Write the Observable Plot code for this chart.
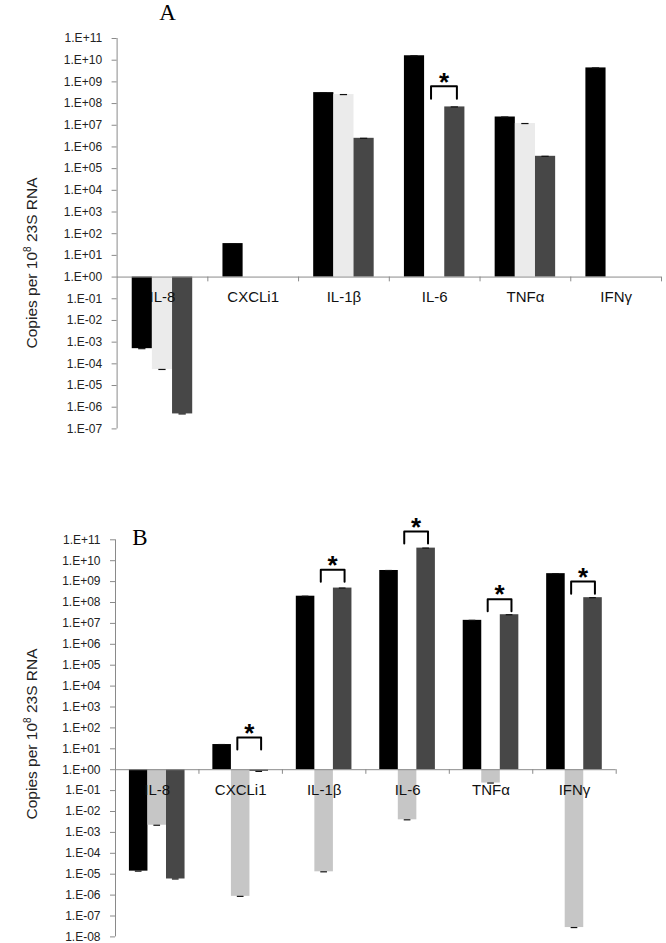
<!DOCTYPE html>
<html><head><meta charset="utf-8">
<script src="https://cdn.jsdelivr.net/npm/d3@7"></script>
<script src="https://cdn.jsdelivr.net/npm/@observablehq/plot@0.6"></script>
<style>
body{margin:0;background:#fff}
#wrap{position:relative;width:666px;height:943px;font-family:Arial,"Liberation Sans",sans-serif}
#wrap svg{position:absolute;left:0;overflow:visible}
</style>
</head><body><div id="wrap"></div>
<script>
// ---- data ----
const categories = ["IL-8", "CXCLi1", "IL-1β", "IL-6", "TNFα", "IFNγ"];
const seriesNames = ["Group 1", "Group 2", "Group 3"];

// Panel A (null = no bar)
const aBlack = [5e-4, 35, 3.2e8, 1.6e10, 2.4e7, 4.4e9];
const aLight = [5.5e-5, null, 2.6e8, null, 1.2e7, null];
const aDark  = [4.9e-7, null, 2.5e6, 7e7, 3.7e5, null];
const aSigCats = ["IL-6"];
const aSigTop  = [6.3e8];
const aTickLabels = ["1.E+11","1.E+10","1.E+09","1.E+08","1.E+07","1.E+06","1.E+05","1.E+04","1.E+03","1.E+02","1.E+01","1.E+00","1.E-01","1.E-02","1.E-03","1.E-04","1.E-05","1.E-06","1.E-07"];

// Panel B
const bBlack = [1.4e-5, 16, 2e8, 3.4e9, 1.4e7, 2.4e9];
const bLight = [2.2e-3, 8.7e-7, 1.3e-5, 4e-3, 0.23, 2.8e-8];
const bDark  = [5.9e-6, 0.83, 4.9e8, 4e10, 2.6e7, 1.7e8];
const bSigCats = ["CXCLi1", "IL-1β", "IL-6", "TNFα", "IFNγ"];
const bSigTop  = [35, 3.7e9, 2.5e11, 1.45e8, 1e9];
const bTickLabels = ["1.E+11","1.E+10","1.E+09","1.E+08","1.E+07","1.E+06","1.E+05","1.E+04","1.E+03","1.E+02","1.E+01","1.E+00","1.E-01","1.E-02","1.E-03","1.E-04","1.E-05","1.E-06","1.E-07","1.E-08"];

// ---- layout constants ----
const BAR_W = 2 / 9, GROUP_START = 1 / 6, CAP = 0.04;
const BR_L = 0.46, BR_R = 0.745, LEG = Math.pow(10, 0.58), TICK_END = Math.pow(10, -0.22);
const GRAY = "#8a8a8a";

function panel(cfg) {
  const n = categories.length;
  const seriesVals = [cfg.black, cfg.light, cfg.dark];
  const rowsBy = seriesVals.map((vals, si) =>
    vals.map((v, ci) => ({ci, si, v, s: seriesNames[si], c: categories[ci]})).filter(d => d.v != null));
  const allRows = rowsBy.flat();
  const x1 = d => d.ci + GROUP_START + d.si * BAR_W;
  const x2 = d => x1(d) + BAR_W;
  const xc = d => x1(d) + BAR_W / 2;
  const sig = cfg.sigCats.map((c, i) => ({c, ci: categories.indexOf(c), top: cfg.sigTop[i]}));
  const brackets = sig.flatMap(s => [
    {id: s.c, x: s.ci + BR_L, y: s.top / LEG},
    {id: s.c, x: s.ci + BR_L, y: s.top},
    {id: s.c, x: s.ci + BR_R, y: s.top},
    {id: s.c, x: s.ci + BR_R, y: s.top / LEG}
  ]);
  const tickVals = cfg.tickLabels.map(Number);
  const fmt = new Map(tickVals.map((v, i) => [v, cfg.tickLabels[i]]));
  const svg = Plot.plot({
    width: 666, height: cfg.height,
    marginTop: cfg.mt, marginBottom: cfg.mb, marginLeft: cfg.ml, marginRight: cfg.mr,
    style: {color: "#222", fontFamily: "Arial, 'Liberation Sans', sans-serif", fontSize: "12px", background: "transparent", overflow: "visible"},
    x: {domain: [0, n], axis: null},
    y: {type: "log", domain: cfg.domain, ticks: tickVals, tickFormat: d => fmt.get(d), tickSize: 5, tickPadding: 10, label: null},
    marks: [
      ...rowsBy.map((rows, si) => Plot.rectY(rows, {x1, x2, y1: 1, y2: "v", fill: cfg.colors[si]})),
      Plot.ruleY(allRows, {x1: d => xc(d) - CAP, x2: d => xc(d) + CAP, y: "v", stroke: "#111", strokeWidth: 1.2}),
      Plot.ruleY([1], {x1: 0, x2: n, stroke: GRAY}),
      Plot.ruleX([0], {stroke: GRAY}),
      Plot.ruleX(d3.range(1, n + 1), {x: d => d, y1: 1, y2: TICK_END, stroke: GRAY}),
      Plot.text(categories, {x: (d, i) => i + 0.5, y: () => 1, dy: 20, text: d => d, fontSize: 15, fill: "#111"}),
      Plot.line(brackets, {x: "x", y: "y", z: "id", stroke: "#000", strokeWidth: 2, strokeLinejoin: "round"}),
      Plot.text(sig, {x: d => d.ci + (BR_L + BR_R) / 2, y: "top", text: () => "*", dy: -4, fontSize: 26, fontWeight: "bold", fill: "#000"})
    ]
  });
  svg.style.top = cfg.top + "px";
  svg.querySelectorAll('[aria-label="y-axis tick"]').forEach(g => g.setAttribute("stroke", GRAY));
  svg.querySelectorAll('[aria-label="y-axis"] line').forEach(l => l.setAttribute("stroke", GRAY));
  const s = d3.select(svg);
  // panel letter
  s.append("text").attr("x", cfg.letterX).attr("y", cfg.letterY).attr("text-anchor", "middle")
    .attr("font-family", "'Liberation Serif', 'Times New Roman', serif").attr("font-size", 23).attr("fill", "#000").text(cfg.letter);
  // y label with superscript
  const t = s.append("text").attr("transform", `translate(36.5,${cfg.labelY}) rotate(-90)`)
    .attr("text-anchor", "middle").style("font-size", "15.5px").attr("fill", "#222")
    .attr("font-family", "Arial, 'Liberation Sans', sans-serif");
  t.append("tspan").text("Copies per 10");
  t.append("tspan").attr("dy", -6).style("font-size", "10px").text("8");
  t.append("tspan").attr("dy", 6).text(" 23S RNA");
  document.getElementById("wrap").appendChild(svg);
  return svg;
}

panel({black: aBlack, light: aLight, dark: aDark, sigCats: aSigCats, sigTop: aSigTop,
  tickLabels: aTickLabels, domain: [1e-7, 1e11], height: 470, top: 0,
  mt: 38, mb: 41.6, ml: 116.6, mr: 5,
  colors: ["#000000", "#ebebeb", "#474747"], letter: "A", letterX: 167.5, letterY: 20, labelY: 263});

panel({black: bBlack, light: bLight, dark: bDark, sigCats: bSigCats, sigTop: bSigTop,
  tickLabels: bTickLabels, domain: [1e-8, 1e11], height: 473, top: 470,
  mt: 69.3, mb: 6.6, ml: 115, mr: 50.3,
  colors: ["#000000", "#c6c6c6", "#474747"], letter: "B", letterX: 140, letterY: 75, labelY: 264});
</script>
</body></html>
